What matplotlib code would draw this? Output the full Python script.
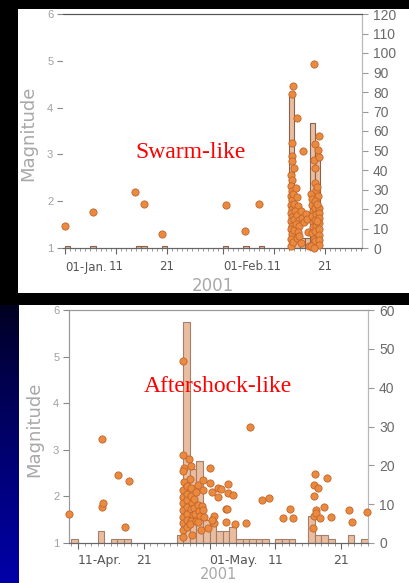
import numpy as np
import matplotlib
matplotlib.use("Agg")
import matplotlib.pyplot as plt
from matplotlib.patches import Rectangle
from matplotlib.transforms import ScaledTranslation
from matplotlib.ticker import FixedLocator, MultipleLocator

# ---------------- data (day of year 2001) ----------------
# Swarm-like (Jan-Feb 2001)
top_bar_days = [1, 6, 15, 16, 20, 32, 36, 39, 45, 46, 47, 48, 49, 50]
top_bar_counts = [1, 1, 1, 1, 1, 1, 1, 1, 79, 5, 5, 5, 64, 50]
top_ev_days = [1.0, 6.4, 14.7, 16.5, 20.0, 32.6, 36.2, 39.0,
               45.6, 45.8, 46.4, 45.5, 45.5, 45.5, 46.0, 45.4, 45.5, 45.4, 45.6, 45.3,
               45.5, 45.4, 45.6, 45.3, 45.5, 45.4, 45.6, 45.3, 45.5, 45.4, 45.3, 45.7,
               45.9, 45.9, 46.0, 45.8,
               46.3, 46.4, 46.6, 46.2, 46.5, 46.8, 46.3, 46.9, 46.6, 46.5, 46.9, 47.6,
               47.2, 47.5, 47.8, 47.3, 48.2, 48.5, 48.8, 48.6, 49.3,
               49.8, 50.0, 49.9, 50.8, 50.7, 50.9, 50.0, 50.0, 50.2, 50.7, 49.4, 49.5,
               49.6, 49.5, 49.7, 49.6, 49.5, 49.8, 49.6, 50.0, 50.1, 50.2, 50.0, 50.2,
               50.1, 50.0, 50.9, 50.9, 50.8, 50.9, 50.8, 50.9, 50.8, 50.9, 50.5, 50.4,
               50.5, 49.3, 49.9]
top_ev_mags = [1.46, 1.77, 2.19, 1.95, 1.29, 1.92, 1.37, 1.93,
               4.30, 4.46, 3.78, 3.24, 2.97, 2.86, 2.72, 2.55, 2.45, 2.33, 2.22, 2.12,
               2.02, 1.92, 1.84, 1.75, 1.66, 1.57, 1.48, 1.40, 1.30, 1.20, 1.05, 1.12,
               1.95, 1.62, 1.38, 2.15,
               2.28, 2.08, 1.90, 1.78, 1.70, 1.60, 1.52, 1.48, 1.35, 1.22, 1.26, 3.07,
               1.78, 1.65, 1.55, 1.10, 1.72, 1.62, 1.05, 1.35, 2.16,
               4.93, 3.23, 2.88, 3.39, 3.10, 2.95, 2.72, 2.39, 2.25, 2.12, 2.05, 1.92,
               1.80, 1.68, 1.56, 1.45, 1.33, 1.20, 1.08, 2.00, 1.85, 1.72, 1.60, 1.48,
               1.36, 1.14, 1.86, 1.75, 1.65, 1.53, 1.41, 1.28, 1.18, 1.06, 1.95, 1.58,
               2.30, 1.04, 1.00]
top_tick_days = [1, 11, 21, 32, 42, 52]
top_tick_labels = ["01-Jan.", "11", "21", "01-Feb.", "11", "21"]

# Aftershock-like (Apr-May 2001)
bot_bar_days = [100, 104, 106, 107, 108, 116, 117, 118, 119, 120, 121, 122, 123, 124,
                125, 126, 127, 128, 129, 131, 132, 133, 136, 137, 138, 139, 142, 144]
bot_bar_counts = [1, 3, 1, 1, 1, 2, 57, 19, 21, 6, 6, 3, 3, 4,
                  1, 1, 1, 1, 1, 1, 1, 1, 7, 2, 2, 1, 2, 1]
bot_ev_days = [99.7, 104.6, 104.6, 104.8, 107.1, 108.2, 108.7,
               117.0, 117.0, 117.9, 117.1, 117.0, 118.1, 118.0, 117.1, 117.0, 117.0,
               117.0, 117.0, 117.0, 117.0, 117.0, 117.0, 117.5, 117.5, 117.5, 117.5,
               117.5, 117.5, 117.5, 118.3, 118.2, 118.2, 118.3, 118.1, 118.4, 118.2,
               118.0, 118.6, 118.7, 118.8, 118.9, 119.3, 119.0, 119.2, 119.4, 119.6,
               119.3, 119.7, 119.8, 120.0, 120.0, 120.0, 120.2, 120.8, 121.0, 121.0,
               121.3, 121.7, 121.7, 121.4,
               122.3, 122.3, 122.7, 123.8, 123.8, 124.6, 123.5, 123.7, 123.5, 124.9,
               126.6, 127.2, 129.0, 130.1, 132.1, 133.2, 133.7, 136.7, 136.8, 136.9,
               137.0, 136.9, 137.2, 137.1, 137.5, 137.8, 138.4, 138.8, 139.4, 142.2,
               142.6, 144.9]
bot_ev_mags = [1.63, 3.24, 1.78, 1.86, 2.46, 1.35, 2.34,
               4.91, 2.89, 2.80, 2.61, 2.55, 2.66, 2.37, 2.30, 2.14, 1.99,
               1.85, 1.71, 1.56, 1.42, 1.28, 1.12, 2.22, 2.05, 1.92, 1.78,
               1.63, 1.50, 1.35, 1.17, 2.18, 2.00, 1.86, 1.72, 1.60, 1.48,
               1.40, 1.95, 1.75, 1.62, 1.48, 2.24, 2.10, 1.82, 1.68, 1.58,
               1.45, 1.28, 1.80, 2.36, 2.14, 1.70, 1.55, 1.33, 2.62, 2.29,
               2.10, 1.58, 1.42, 1.50,
               2.17, 1.99, 2.15, 2.26, 2.07, 2.03, 1.72, 1.72, 1.44, 1.41,
               1.42, 3.49, 1.93, 1.97, 1.53, 1.72, 1.54, 1.32, 1.58, 2.01,
               2.48, 2.25, 1.71, 1.64, 2.18, 1.54, 1.78, 2.40, 1.55, 1.70,
               1.45, 1.66]
bot_tick_days = [101, 111, 121, 131, 141]
bot_tick_labels = ["11-Apr.", "21", "01-May.", "11", "21"]

# ---------------- figure ----------------
W, H = 410, 583
fig = plt.figure(figsize=(W / 100, H / 100), dpi=100, facecolor="black")

bg = fig.add_axes([0, 0, 1, 1], zorder=-10)
bg.set_xlim(0, W)
bg.set_ylim(H, 0)
bg.axis("off")
bg.set_facecolor("black")
grad = np.linspace(0, 1, 200)
cols = np.zeros((200, 1, 3))
cols[:, 0, 2] = 0.08 + 0.58 * grad ** 0.8
bg.imshow(cols, extent=[0, 19, H, 293], aspect="auto", interpolation="bilinear")
bg.add_patch(Rectangle((18, 9), W - 18, 284, facecolor="white", edgecolor="none"))
bg.add_patch(Rectangle((19, 305), W - 19, H - 305, facecolor="white", edgecolor="none"))

bar_face = "#eabd9f"
dot_face = "#e98a3e"
dot_edge = "#c2642c"


def make_panel(rect, bar_days, bar_counts, ev_days, ev_mags, xlim, cmax,
               tick_days, tick_labels, title, tpos, top_spine_col, left_spine_col,
               bar_edge, year_y, year_fs, xfont, xoff, xpad):
    ax = fig.add_axes(rect)
    ax2 = ax.twinx()
    ax.set_zorder(ax2.get_zorder() + 1)
    ax.patch.set_visible(False)
    ax2.patch.set_facecolor("white")

    ax2.bar(bar_days, bar_counts, width=1.0, align="edge", color=bar_face,
            edgecolor=bar_edge, linewidth=0.8)
    ax.scatter(ev_days, ev_mags, s=27, c=dot_face, edgecolors=dot_edge,
               linewidths=0.6, zorder=3, clip_on=False)

    ax.set_xlim(*xlim)
    ax.set_ylim(1, 6)
    ax2.set_ylim(0, cmax)
    ax.set_yticks([1, 2, 3, 4, 5, 6])
    ax2.yaxis.set_major_locator(MultipleLocator(10))

    ax.xaxis.set_major_locator(FixedLocator(tick_days))
    ax.set_xticklabels(tick_labels, fontsize=xfont, family="DejaVu Sans", color="#555555")
    ax.xaxis.set_minor_locator(MultipleLocator(1))
    off = ScaledTranslation(xoff, 0, fig.dpi_scale_trans)
    for lab in ax.get_xticklabels():
        if "-" in lab.get_text():
            lab.set_ha("left")
            lab.set_transform(lab.get_transform() + off)

    ax.tick_params(axis="x", which="major", length=4, width=0.8, color="#666666",
                   direction="out", pad=xpad)
    ax.tick_params(axis="x", which="minor", length=2, width=0.6, color="#888888",
                   direction="out")
    ax.tick_params(axis="y", which="major", length=4, width=0.8, color="#888888",
                   labelsize=8, labelcolor="#a0a0a0", pad=3)
    for lab in ax.get_yticklabels():
        lab.set_family("Liberation Sans")
    ax2.tick_params(axis="y", which="major", length=4, width=0.8, color="#999999",
                    labelsize=10, labelcolor="#6a6a6a", pad=4)
    for lab in ax2.get_yticklabels():
        lab.set_family("Liberation Sans")

    for a in (ax, ax2):
        a.spines["top"].set_color(top_spine_col)
        a.spines["left"].set_color(left_spine_col)
        a.spines["right"].set_color("#b8b8b8")
        a.spines["bottom"].set_color("#666666")
        for s in a.spines.values():
            s.set_linewidth(0.8)

    ax.text(-0.117, 0.49, "Magnitude", transform=ax.transAxes, rotation=90,
            ha="center", va="center", fontsize=13, color="#a8a8a8")
    ax.text(0.5, year_y, "2001", transform=ax.transAxes, ha="center", va="center",
            fontsize=year_fs, color="#a8a8a8")
    ax.text(tpos[0], tpos[1], title, transform=ax.transAxes, ha="center", va="center",
            fontsize=17, color="#ff0000", family="Liberation Serif")
    return ax, ax2


# top panel: axes from x 63..362 px, y 14..248 px
make_panel([63 / W, 1 - 248 / H, 299 / W, 234 / H],
           top_bar_days, top_bar_counts, top_ev_days, top_ev_mags,
           (0.61, 59.24), 120, top_tick_days, top_tick_labels,
           "Swarm-like", (0.428, 0.406), "#555555", "white", "#86624f", -0.162, 12,
           8.5, -0.08, 5)

# bottom panel: axes from x 69..368 px, y 310..543 px
make_panel([69 / W, 1 - 543 / H, 299 / W, 233 / H],
           bot_bar_days, bot_bar_counts, bot_ev_days, bot_ev_mags,
           (99.63, 145.07), 60, bot_tick_days, bot_tick_labels,
           "Aftershock-like", (0.498, 0.67), "#999999", "#999999", "#a3806e", -0.137, 10.5,
           9, -0.05, 4)

# overlay black band between the two slide panels
ov = fig.add_axes([0, 0, 1, 1], zorder=20)
ov.set_xlim(0, W)
ov.set_ylim(H, 0)
ov.axis("off")
ov.patch.set_visible(False)
ov.add_patch(Rectangle((0, 293), W, 12, facecolor="black", edgecolor="none"))

fig.savefig("out.png", dpi=100, facecolor=fig.get_facecolor())
